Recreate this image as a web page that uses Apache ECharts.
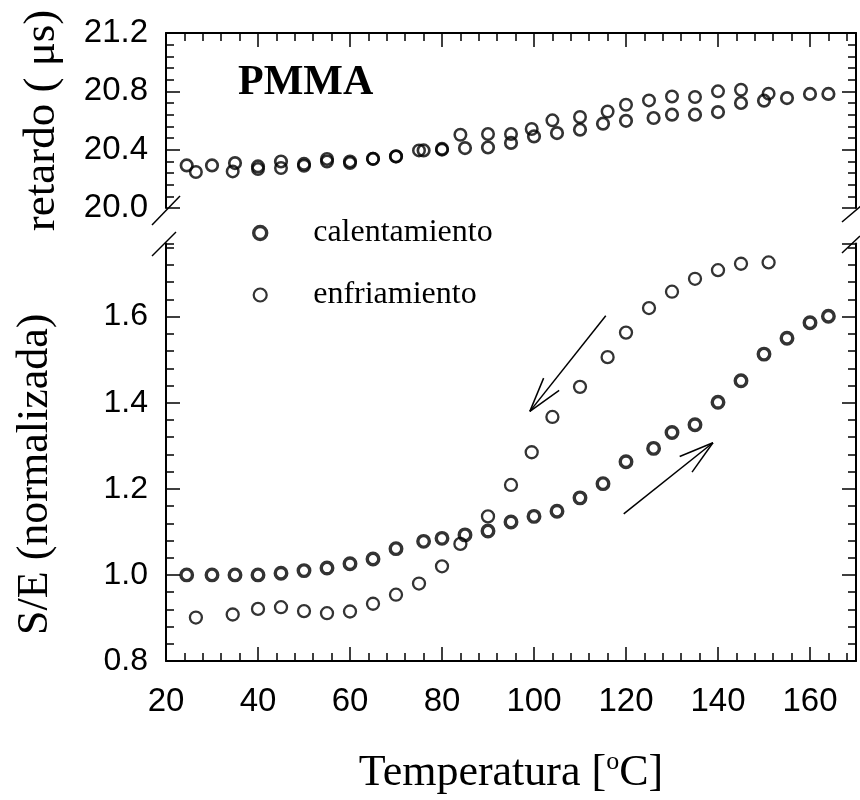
<!DOCTYPE html>
<html><head><meta charset="utf-8">
<script src="https://cdn.jsdelivr.net/npm/echarts@6/dist/echarts.min.js"></script>
<style>html,body{margin:0;padding:0;background:#fff}#c{width:860px;height:800px}</style>
</head><body><div id="c"></div>
<script>
// ---- data ----
const calX   = [24.5,30,35,40,45,50,55,60,65,70,76,80,85,90,95,100,105,110,115,120,126,130,135,140,145,150,155,160,164];
const calSE  = [1.000,1.000,1.000,1.000,1.004,1.010,1.016,1.026,1.037,1.061,1.078,1.085,1.093,1.102,1.123,1.136,1.148,1.179,1.212,1.263,1.294,1.331,1.349,1.401,1.451,1.513,1.550,1.586,1.601];
const calRet = [20.292,20.292,20.308,20.285,20.319,20.302,20.336,20.319,20.337,20.354,20.395,20.405,20.411,20.415,20.446,20.491,20.514,20.537,20.578,20.598,20.617,20.640,20.640,20.658,20.720,20.736,20.754,20.782,20.782];
const enfX   = [26.5,34.5,40,45,50,55,60,65,70,75,80,84,90,95,99.5,104,110,116,120,125,130,135,140,145,151];
const enfSE  = [0.901,0.908,0.921,0.925,0.916,0.911,0.915,0.933,0.954,0.980,1.020,1.072,1.136,1.209,1.285,1.367,1.437,1.506,1.563,1.620,1.658,1.688,1.708,1.723,1.726];
const enfRet = [20.247,20.251,20.267,20.274,20.290,20.319,20.308,20.337,20.354,20.395,20.400,20.502,20.507,20.507,20.542,20.601,20.624,20.662,20.708,20.738,20.765,20.761,20.800,20.811,20.784];
const seriesNames = ['calentamiento','enfriamiento'];
const xRange = [20,170], xStep = 20, xMinor = 4;
const retRange = [20.0,21.2], retStep = 0.4, retMinor = 0.08;
const seRange = [0.8,1.77], seStep = 0.2, seMinor = 0.04;
const arrowCooling = [[115.6,1.602],[99.1,1.380]];   // tail, tip
const arrowHeating = [[119.5,1.142],[138.9,1.307]];  // tail, tip

const zip = (a,b) => a.map((v,i)=>[v,b[i]]);
const BLACK = '#000';
const SANS = 'Liberation Sans', SERIF = 'Liberation Serif';
const GL = 166, GR = 4;

function xAx(grid, pos, interval, major, extra){
  return Object.assign({
    type:'value', gridIndex:grid, position:pos, min:xRange[0], max:xRange[1], interval:interval,
    axisLine:{show:major, onZero:false, lineStyle:{color:BLACK,width:2}},
    axisTick:{show:true, inside:true, length:major?14:8, lineStyle:{color:BLACK,width:1.5}},
    axisLabel:{show:false}, splitLine:{show:false}
  }, extra||{});
}
function yAx(grid, pos, range, interval, major, extra){
  return Object.assign({
    type:'value', gridIndex:grid, position:pos, min:range[0], max:range[1], interval:interval,
    axisLine:{show:major, onZero:false, lineStyle:{color:BLACK,width:2}},
    axisTick:{show:true, inside:true, length:major?14:8, lineStyle:{color:BLACK,width:1.5}},
    axisLabel:{show:false}, splitLine:{show:false}
  }, extra||{});
}

const chart = echarts.init(document.getElementById('c'), null, {renderer:'canvas'});
const option = {
  animation:false,
  backgroundColor:'#fff',
  title:{text:'PMMA', left:238, top:62, padding:0,
    textStyle:{fontFamily:SERIF, fontWeight:'bold', fontSize:42, color:BLACK}},
  legend:{
    orient:'vertical', left:247, top:212, itemWidth:96, itemHeight:13, itemGap:30,
    symbolKeepAspect:true, selectedMode:false,
    textStyle:{fontFamily:SERIF, fontSize:32, color:BLACK},
    data:[
      {name:seriesNames[0], icon:'circle', itemStyle:{color:'transparent', borderColor:BLACK, borderWidth:3.4}},
      {name:seriesNames[1], icon:'circle', itemStyle:{color:'transparent', borderColor:BLACK, borderWidth:2.2}}
    ]
  },
  grid:[
    {left:GL, right:GR, top:33, height:175},
    {left:GL, right:GR, top:243.5, bottom:132}
  ],
  xAxis:[
    xAx(0,'top',xStep,true),
    xAx(0,'top',xMinor,false),
    xAx(1,'bottom',xStep,true,{
      axisLabel:{show:true, showMaxLabel:false, fontFamily:SANS, fontSize:33, color:BLACK, margin:24},
      name:'{a|Temperatura [}{s|o}{a|C]}', nameLocation:'middle', nameGap:88,
      nameTextStyle:{rich:{
        a:{fontFamily:SERIF, fontSize:44, color:BLACK},
        s:{fontFamily:SERIF, fontSize:26, color:BLACK, padding:[0,0,22,0]}
      }}
    }),
    xAx(1,'bottom',xMinor,false)
  ],
  yAxis:[
    yAx(0,'left',retRange,retStep,true,{
      axisLabel:{show:true, fontFamily:SANS, fontSize:33, color:BLACK, margin:18, formatter:v=>v.toFixed(1)},
      name:'retardo ( μs)', nameLocation:'middle', nameRotate:90, nameGap:101,
      nameTextStyle:{fontFamily:SERIF, fontSize:45, color:BLACK}
    }),
    yAx(0,'left',retRange,retMinor,false),
    yAx(0,'right',retRange,retStep,true),
    yAx(0,'right',retRange,retMinor,false),
    yAx(1,'left',seRange,seStep,true,{
      axisLabel:{show:true, showMaxLabel:false, fontFamily:SANS, fontSize:32, color:BLACK, margin:18, formatter:v=>v.toFixed(1)},
      name:'S/E (normalizada)', nameLocation:'middle', nameRotate:90, nameGap:109,
      nameTextStyle:{fontFamily:SERIF, fontSize:44, color:BLACK, padding:[0,44,0,0]}
    }),
    yAx(1,'left',seRange,seMinor,false),
    yAx(1,'right',seRange,seStep,true),
    yAx(1,'right',seRange,seMinor,false)
  ],
  series:[
    {type:'scatter', name:seriesNames[0], xAxisIndex:2, yAxisIndex:4, data:zip(calX,calSE),
     symbol:'circle', symbolSize:11.5, itemStyle:{color:'transparent', borderColor:BLACK, borderWidth:3.4}, emphasis:{disabled:true}},
    {type:'scatter', name:seriesNames[1], xAxisIndex:2, yAxisIndex:4, data:zip(enfX,enfSE),
     symbol:'circle', symbolSize:12, itemStyle:{color:'transparent', borderColor:BLACK, borderWidth:2.3}, emphasis:{disabled:true}},
    {type:'scatter', name:seriesNames[0], xAxisIndex:0, yAxisIndex:0, data:zip(calX,calRet),
     symbol:'circle', symbolSize:11.5, itemStyle:{color:'transparent', borderColor:BLACK, borderWidth:2.7}, emphasis:{disabled:true}},
    {type:'scatter', name:seriesNames[1], xAxisIndex:0, yAxisIndex:0, data:zip(enfX,enfRet),
     symbol:'circle', symbolSize:11.5, itemStyle:{color:'transparent', borderColor:BLACK, borderWidth:2.5}, emphasis:{disabled:true}}
  ]
};
chart.setOption(option);

// decorations: axis-break slashes and annotation arrows
const ls = {stroke:BLACK, lineWidth:1.5};
const seg = (x1,y1,x2,y2) => ({type:'line', silent:true, shape:{x1,y1,x2,y2}, style:ls});
const W = 860, xL = GL, xR = W - GR;
const graphics = [
  seg(xL-14,225,xL+14,196), seg(xL-14,256,xL+10,232),
  seg(xR-14,222,xR+6,205), seg(xR-14,253,xR+4,236)
];
function arrow(def){
  const a = chart.convertToPixel({xAxisIndex:2, yAxisIndex:4}, def[0]);
  const b = chart.convertToPixel({xAxisIndex:2, yAxisIndex:4}, def[1]);
  const ang = Math.atan2(a[1]-b[1], a[0]-b[0]);
  const L = 36, d = 16*Math.PI/180;
  graphics.push(seg(a[0],a[1],b[0],b[1]));
  graphics.push(seg(b[0],b[1],b[0]+L*Math.cos(ang+d),b[1]+L*Math.sin(ang+d)));
  graphics.push(seg(b[0],b[1],b[0]+L*Math.cos(ang-d),b[1]+L*Math.sin(ang-d)));
}
arrow(arrowCooling); arrow(arrowHeating);
chart.setOption({graphic:graphics});
</script></body></html>
